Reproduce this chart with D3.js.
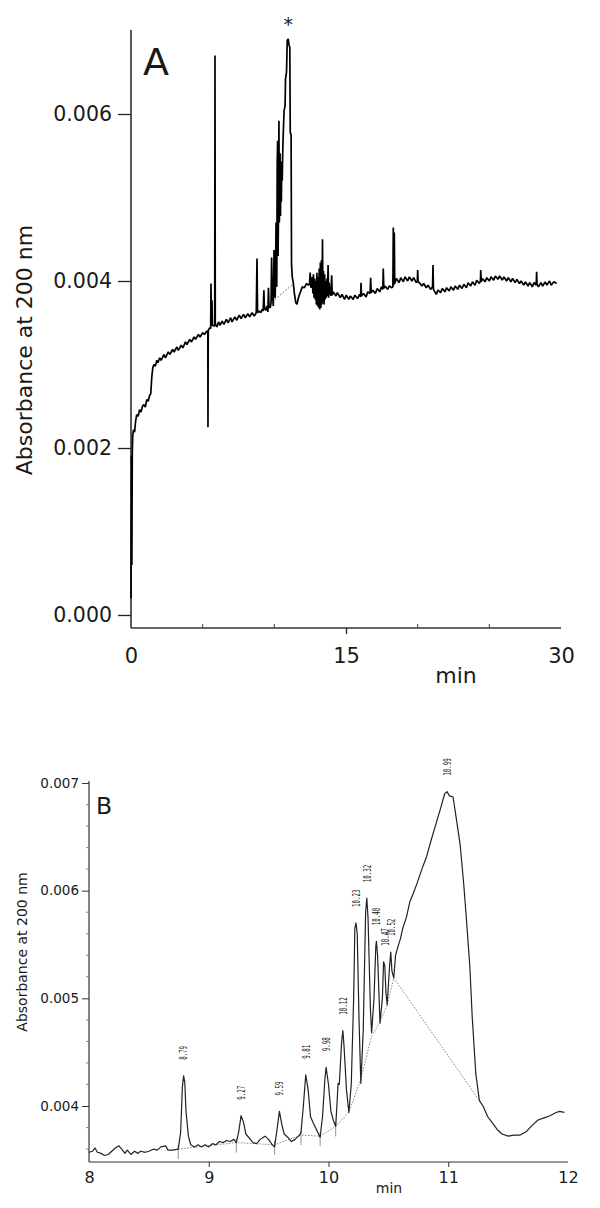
<!DOCTYPE html>
<html>
<head>
<meta charset="utf-8">
<script src="https://cdn.jsdelivr.net/npm/d3@7"></script>
<style>
  body { margin: 0; background: #fff; }
  svg { display: block; }
  text { font-family: "DejaVu Sans", Verdana, sans-serif; fill: #1a1a1a; }
</style>
</head>
<body>
<script>
// ---------- DATA ----------

// Panel A: full 30 min run, [min, absorbance]
var traceA = [
  [0.00,0.00020],[0.03,0.00190],[0.06,0.00060],[0.09,0.00195],[0.12,0.00215],[0.18,0.00222],[0.25,0.00219],
  [0.32,0.00232],[0.40,0.00240],[0.50,0.00238],[0.60,0.00246],[0.70,0.00243],[0.80,0.00250],[0.90,0.00252],
  [1.00,0.00249],[1.10,0.00258],[1.20,0.00256],[1.30,0.00263],[1.38,0.00265],[1.45,0.00285],[1.52,0.00296],
  [1.60,0.00300],[1.70,0.00298],[1.80,0.00305],[1.88,0.00302],[2.00,0.00308],[2.10,0.00305],[2.30,0.00312],
  [2.40,0.00308],[2.60,0.00315],[2.72,0.00312],[2.90,0.00318],[3.00,0.00315],[3.20,0.00321],[3.30,0.00317],
  [3.50,0.00323],[3.62,0.00320],[3.80,0.00327],[3.90,0.00324],[4.10,0.00330],[4.22,0.00327],[4.40,0.00333],
  [4.50,0.00330],[4.70,0.00336],[4.82,0.00333],[5.00,0.00338],[5.12,0.00336],[5.30,0.00340],[5.36,0.00339],
  [5.37,0.00225],[5.39,0.00341],[5.50,0.00344],[5.56,0.00343],[5.58,0.00397],[5.61,0.00346],[5.65,0.00377],
  [5.68,0.00347],[5.84,0.00346],[5.86,0.00670],[5.88,0.00349],[6.00,0.00345],[6.10,0.00351],[6.22,0.00347],
  [6.35,0.00352],[6.48,0.00348],[6.65,0.00354],[6.78,0.00350],[6.95,0.00356],[7.05,0.00351],[7.25,0.00357],
  [7.38,0.00353],[7.55,0.00359],[7.68,0.00355],[7.85,0.00360],[7.98,0.00356],[8.15,0.00361],[8.28,0.00357],
  [8.45,0.00362],[8.60,0.00358],[8.74,0.00362],[8.79,0.00427],[8.83,0.00362],[8.95,0.00364],[9.05,0.00362],
  [9.15,0.00366],[9.22,0.00364],[9.27,0.00389],[9.31,0.00367],[9.40,0.00365],[9.48,0.00370],[9.55,0.00363],
  [9.59,0.00392],[9.63,0.00369],[9.72,0.00368],[9.77,0.00374],[9.81,0.00428],[9.85,0.00385],[9.90,0.00375],
  [9.93,0.00370],[9.98,0.00437],[10.03,0.00386],[10.06,0.00380],[10.09,0.00421],[10.12,0.00470],[10.15,0.00400],
  [10.17,0.00393],[10.20,0.00540],[10.23,0.00568],[10.26,0.00430],[10.29,0.00480],[10.32,0.00592],[10.35,0.00470],
  [10.38,0.00510],[10.40,0.00553],[10.43,0.00478],[10.46,0.00534],[10.49,0.00495],[10.52,0.00543],[10.55,0.00520],
  [10.58,0.00550],[10.62,0.00575],[10.68,0.00604],[10.75,0.00610],[10.78,0.00642],[10.85,0.00650],[10.90,0.00688],
  [10.97,0.00690],[11.03,0.00682],[11.08,0.00680],[11.11,0.00578],[11.17,0.00575],[11.20,0.00420],[11.25,0.00405],
  [11.32,0.00398],[11.40,0.00385],[11.50,0.00374],[11.58,0.00372],[11.68,0.00380],[11.80,0.00386],[11.95,0.00393],
  [12.10,0.00392],[12.25,0.00397],[12.37,0.00395],[12.45,0.00396],[12.50,0.00410],[12.55,0.00392],[12.60,0.00395],
  [12.65,0.00405],[12.69,0.00385],[12.73,0.00408],[12.77,0.00380],[12.81,0.00403],[12.85,0.00378],[12.89,0.00400],
  [12.93,0.00372],[12.97,0.00410],[13.01,0.00370],[13.05,0.00405],[13.09,0.00368],[13.13,0.00415],[13.17,0.00366],
  [13.21,0.00422],[13.25,0.00368],[13.29,0.00425],[13.33,0.00372],[13.36,0.00450],[13.39,0.00375],[13.43,0.00412],
  [13.47,0.00372],[13.51,0.00408],[13.55,0.00378],[13.59,0.00400],[13.63,0.00380],[13.67,0.00403],[13.71,0.00382],
  [13.75,0.00419],[13.79,0.00380],[13.83,0.00398],[13.87,0.00384],[13.91,0.00392],[13.95,0.00382],[14.00,0.00407],
  [14.04,0.00383],[14.12,0.00387],[14.30,0.00382],[14.40,0.00386],[14.60,0.00380],[14.72,0.00384],[14.90,0.00378],
  [15.02,0.00383],[15.20,0.00378],[15.30,0.00382],[15.50,0.00378],[15.62,0.00383],[15.80,0.00379],[15.95,0.00384],
  [16.02,0.00381],[16.05,0.00398],[16.08,0.00382],[16.22,0.00385],[16.40,0.00381],[16.52,0.00387],[16.68,0.00385],
  [16.72,0.00404],[16.76,0.00386],[16.88,0.00389],[17.05,0.00385],[17.18,0.00391],[17.35,0.00387],[17.48,0.00393],
  [17.57,0.00390],[17.60,0.00415],[17.64,0.00391],[17.72,0.00394],[17.90,0.00390],[18.02,0.00394],[18.20,0.00392],
  [18.27,0.00393],[18.30,0.00464],[18.33,0.00395],[18.37,0.00458],[18.40,0.00397],[18.52,0.00403],[18.70,0.00398],
  [18.82,0.00404],[19.00,0.00399],[19.12,0.00405],[19.30,0.00400],[19.42,0.00405],[19.60,0.00400],[19.72,0.00404],
  [19.90,0.00398],[19.98,0.00400],[20.00,0.00413],[20.03,0.00399],[20.12,0.00398],[20.30,0.00394],[20.42,0.00397],
  [20.60,0.00392],[20.72,0.00395],[20.90,0.00390],[21.04,0.00393],[21.07,0.00419],[21.10,0.00390],[21.20,0.00387],
  [21.30,0.00384],[21.42,0.00389],[21.60,0.00386],[21.72,0.00391],[21.90,0.00387],[22.02,0.00392],[22.20,0.00388],
  [22.32,0.00393],[22.50,0.00389],[22.62,0.00394],[22.80,0.00390],[22.92,0.00395],[23.10,0.00391],[23.22,0.00396],
  [23.40,0.00392],[23.52,0.00398],[23.70,0.00394],[23.82,0.00399],[24.00,0.00395],[24.12,0.00401],[24.30,0.00397],
  [24.38,0.00400],[24.40,0.00413],[24.43,0.00399],[24.52,0.00403],[24.70,0.00399],[24.82,0.00404],[25.00,0.00400],
  [25.12,0.00405],[25.30,0.00401],[25.42,0.00406],[25.60,0.00402],[25.72,0.00406],[25.90,0.00401],[26.02,0.00405],
  [26.20,0.00400],[26.32,0.00404],[26.50,0.00399],[26.62,0.00403],[26.80,0.00398],[26.92,0.00402],[27.10,0.00397],
  [27.22,0.00400],[27.40,0.00395],[27.52,0.00399],[27.70,0.00394],[27.82,0.00398],[28.00,0.00393],[28.12,0.00398],
  [28.27,0.00395],[28.30,0.00411],[28.33,0.00396],[28.42,0.00393],[28.60,0.00398],[28.72,0.00394],[28.90,0.00399],
  [29.02,0.00395],[29.20,0.00400],[29.32,0.00395],[29.50,0.00399],[29.70,0.00397]
];
// integration baseline under the starred peak
var baselineA = [[9.85,0.00375],[11.22,0.00395]];
var yTicksA = [0.000, 0.002, 0.004, 0.006];
var xTicksA = [0, 15, 30];
var xMinorA = [5, 10, 20, 25];
var starPeakA = [10.97, 0.00690];

// Panel B: zoom 8-12 min, [min, absorbance]
var traceB = [
  [8.00,0.00357],[8.03,0.00358],[8.05,0.00361],[8.07,0.00357],[8.10,0.00356],[8.13,0.00354],[8.16,0.00355],
  [8.19,0.00358],[8.22,0.00361],[8.25,0.00363],[8.28,0.00359],[8.30,0.00356],[8.32,0.00359],[8.35,0.00355],
  [8.38,0.00358],[8.41,0.00356],[8.43,0.00358],[8.47,0.00357],[8.50,0.00358],[8.54,0.00360],[8.57,0.00359],
  [8.60,0.00362],[8.64,0.00363],[8.66,0.00359],[8.70,0.00359],[8.745,0.00360],[8.765,0.00375],[8.78,0.00418],
  [8.79,0.00428],[8.80,0.00422],[8.81,0.00395],[8.83,0.00372],[8.85,0.00364],[8.88,0.00362],[8.91,0.00364],
  [8.94,0.00362],[8.97,0.00364],[9.00,0.00362],[9.03,0.00365],[9.06,0.00364],[9.09,0.00367],[9.12,0.00366],
  [9.15,0.00368],[9.18,0.00367],[9.21,0.00369],[9.23,0.00366],[9.25,0.00376],[9.27,0.00391],[9.29,0.00385],
  [9.31,0.00374],[9.34,0.00370],[9.37,0.00366],[9.40,0.00365],[9.43,0.00369],[9.47,0.00372],[9.50,0.00369],
  [9.53,0.00364],[9.55,0.00362],[9.57,0.00378],[9.59,0.00395],[9.61,0.00383],[9.63,0.00374],[9.66,0.00371],
  [9.69,0.00367],[9.72,0.00369],[9.75,0.00372],[9.77,0.00375],[9.79,0.00400],[9.81,0.00429],[9.83,0.00415],
  [9.85,0.00390],[9.87,0.00385],[9.90,0.00378],[9.93,0.00371],[9.95,0.00390],[9.97,0.00425],[9.98,0.00436],
  [10.00,0.00420],[10.02,0.00395],[10.04,0.00387],[10.06,0.00381],[10.07,0.00400],[10.08,0.00421],[10.09,0.00420],
  [10.11,0.00460],[10.12,0.00470],[10.13,0.00455],[10.15,0.00415],[10.17,0.00394],[10.19,0.00420],[10.21,0.00500],
  [10.22,0.00565],[10.23,0.00570],[10.24,0.00560],[10.255,0.00480],[10.27,0.00421],[10.29,0.00470],[10.31,0.00580],
  [10.32,0.00593],[10.33,0.00575],[10.35,0.00490],[10.36,0.00468],[10.38,0.00500],[10.395,0.00548],[10.40,0.00553],
  [10.41,0.00540],[10.43,0.00477],[10.45,0.00500],[10.46,0.00534],[10.47,0.00530],[10.48,0.00505],[10.49,0.00494],
  [10.51,0.00530],[10.52,0.00543],[10.53,0.00525],[10.545,0.00519],[10.56,0.00540],[10.58,0.00548],[10.60,0.00555],
  [10.62,0.00565],[10.65,0.00575],[10.68,0.00590],[10.71,0.00598],[10.74,0.00607],[10.78,0.00620],[10.82,0.00632],
  [10.86,0.00648],[10.90,0.00663],[10.94,0.00678],[10.97,0.00690],[10.99,0.00692],[11.01,0.00688],[11.04,0.00687],
  [11.07,0.00665],[11.10,0.00642],[11.13,0.00605],[11.15,0.00576],[11.18,0.00530],[11.20,0.00483],[11.23,0.00430],
  [11.26,0.00405],[11.29,0.00400],[11.33,0.00390],[11.37,0.00384],[11.41,0.00378],[11.45,0.00374],[11.50,0.00372],
  [11.55,0.00373],[11.60,0.00373],[11.65,0.00376],[11.70,0.00382],[11.75,0.00387],[11.80,0.00389],[11.85,0.00391],
  [11.90,0.00394],[11.93,0.00395],[11.97,0.00394]
];
// dotted integration baseline
var baselineB = [
  [8.745,0.00360],[9.23,0.00366],[9.55,0.00364],[9.77,0.00373],[9.93,0.00372],[10.06,0.00381],[10.17,0.00394],
  [10.27,0.00425],[10.36,0.00465],[10.43,0.00478],[10.49,0.00494],[10.545,0.00519],[11.26,0.00405]
];
// peak start markers
var peakStartsB = [[8.745,0.00360],[9.23,0.00366],[9.55,0.00364],[9.77,0.00373],[9.93,0.00372],[10.06,0.00381]];
// labelled retention times and apex heights
var peakTimesB = [8.79, 9.27, 9.59, 9.81, 9.98, 10.12, 10.23, 10.32, 10.40, 10.47, 10.52, 10.99];
var peakHeightsB = [0.00428, 0.00391, 0.00395, 0.00429, 0.00436, 0.00470, 0.00570, 0.00593, 0.00553, 0.00534, 0.00543, 0.00692];
var yTicksB = [0.004, 0.005, 0.006, 0.007];
var xTicksB = [8, 9, 10, 11, 12];

// ---------- SVG ----------
var svg = d3.select("body").append("svg")
    .attr("width", 600)
    .attr("height", 1208);

/* ---------- PANEL A ---------- */
var xA = d3.scaleLinear().domain([0, 30]).range([131, 561]);
var yA = d3.scaleLinear().domain([0, 0.006]).range([615, 114]);
var gA = svg.append("g");

// axis lines
gA.append("line").attr("x1", 131).attr("x2", 131).attr("y1", 30).attr("y2", 628)
    .attr("stroke", "#222").attr("stroke-width", 1.5);
gA.append("line").attr("x1", 131).attr("x2", 561).attr("y1", 628).attr("y2", 628)
    .attr("stroke", "#333").attr("stroke-width", 1.3);

var yAxisA = gA.append("g").attr("transform", "translate(131,0)")
    .call(d3.axisLeft(yA).tickValues(yTicksA).tickSize(13).tickPadding(6).tickFormat(d3.format(".3f")));
yAxisA.select(".domain").remove();
yAxisA.selectAll("line").attr("stroke", "#222").attr("stroke-width", 1.3);
yAxisA.selectAll("text").style("font-size", "20.5px").attr("fill", "#1a1a1a");

var xAxisA = gA.append("g").attr("transform", "translate(0,628)")
    .call(d3.axisBottom(xA).tickValues(xTicksA).tickSize(6).tickPadding(14).tickFormat(d3.format("d")));
xAxisA.select(".domain").remove();
xAxisA.selectAll(".tick line").attr("stroke", "#222").attr("stroke-width", 1.3)
    .filter(function(d) { return d == 0 || d == 30; }).remove();
xAxisA.selectAll("text").style("font-size", "21px").attr("fill", "#1a1a1a");

// minor ticks on the time axis
gA.selectAll(".minorA").data(xMinorA).enter().append("line")
    .attr("x1", function(d) { return xA(d); }).attr("x2", function(d) { return xA(d); })
    .attr("y1", 628).attr("y2", 624)
    .attr("stroke", "#444").attr("stroke-width", 1);

// trace
var lineA = d3.line().x(function(d) { return xA(d[0]); }).y(function(d) { return yA(d[1]); });
gA.append("path").datum(traceA)
    .attr("d", lineA)
    .attr("fill", "none")
    .attr("stroke", "#000")
    .attr("stroke-width", 1.7)
    .attr("stroke-linejoin", "bevel");
gA.append("path").datum(baselineA)
    .attr("d", lineA)
    .attr("fill", "none")
    .attr("stroke", "#555")
    .attr("stroke-width", 1)
    .attr("stroke-dasharray", "1.5,2");

// texts
gA.append("text").attr("x", 143).attr("y", 75).style("font-size", "38px").text("A");
gA.append("text").attr("x", xA(starPeakA[0])).attr("y", yA(starPeakA[1]) - 8)
    .attr("text-anchor", "middle").style("font-size", "19px").text("*");
gA.append("text").attr("transform", "translate(32,350) rotate(-90)")
    .attr("text-anchor", "middle").style("font-size", "22px").text("Absorbance at 200 nm");
gA.append("text").attr("x", 456).attr("y", 683)
    .attr("text-anchor", "middle").style("font-size", "22px").text("min");

/* ---------- PANEL B ---------- */
var xB = d3.scaleLinear().domain([8, 12]).range([89, 568]);
var yB = d3.scaleLinear().domain([0.004, 0.007]).range([1106, 783]);
var gB = svg.append("g");

gB.append("line").attr("x1", 89).attr("x2", 89).attr("y1", 781).attr("y2", 1162)
    .attr("stroke", "#333").attr("stroke-width", 1.2);
gB.append("line").attr("x1", 89).attr("x2", 568).attr("y1", 1162).attr("y2", 1162)
    .attr("stroke", "#333").attr("stroke-width", 1.2);

// minor ticks every 0.0002
var minorB = d3.range(36, 71, 2).map(function(d) { return d / 10000; })
    .filter(function(d) { return Math.round(d * 10000) % 10 != 0; });
gB.selectAll(".minorB").data(minorB).enter().append("line")
    .attr("x1", 86).attr("x2", 89)
    .attr("y1", function(d) { return yB(d); }).attr("y2", function(d) { return yB(d); })
    .attr("stroke", "#666").attr("stroke-width", 0.8);

var yAxisB = gB.append("g").attr("transform", "translate(89,0)")
    .call(d3.axisLeft(yB).tickValues(yTicksB).tickSize(7).tickPadding(3).tickFormat(d3.format(".3f")));
yAxisB.select(".domain").remove();
yAxisB.selectAll("line").attr("stroke", "#333");
yAxisB.selectAll("text").style("font-size", "13.5px").attr("fill", "#1a1a1a");

var xAxisB = gB.append("g").attr("transform", "translate(0,1162)")
    .call(d3.axisBottom(xB).tickValues(xTicksB).tickSize(5).tickPadding(5).tickFormat(d3.format("d")));
xAxisB.select(".domain").remove();
xAxisB.selectAll(".tick line").attr("stroke", "#333")
    .filter(function(d) { return d == 8 || d == 12; }).remove();
xAxisB.selectAll("text").style("font-size", "16px").attr("fill", "#1a1a1a");

var lineB = d3.line().x(function(d) { return xB(d[0]); }).y(function(d) { return yB(d[1]); });
gB.append("path").datum(baselineB)
    .attr("d", lineB)
    .attr("fill", "none")
    .attr("stroke", "#777")
    .attr("stroke-width", 0.9)
    .attr("stroke-dasharray", "1.5,1.5");
gB.selectAll(".drop").data(peakStartsB).enter().append("line")
    .attr("x1", function(d) { return xB(d[0]); }).attr("x2", function(d) { return xB(d[0]); })
    .attr("y1", function(d) { return yB(d[1]) - 4; }).attr("y2", function(d) { return yB(d[1]) + 10; })
    .attr("stroke", "#777").attr("stroke-width", 0.8);
gB.append("path").datum(traceB)
    .attr("d", lineB)
    .attr("fill", "none")
    .attr("stroke", "#222")
    .attr("stroke-width", 1.2)
    .attr("stroke-linejoin", "round");

// retention-time labels
gB.selectAll(".rt").data(peakTimesB).enter().append("text")
    .attr("transform", function(d, i) {
      return "translate(" + (xB(d) + 3.8) + "," + (yB(peakHeightsB[i]) - 16) + ") rotate(-90) scale(0.55,1)";
    })
    .style("font-family", "'DejaVu Sans Mono', monospace")
    .style("font-size", "10.5px")
    .attr("fill", "#333")
    .text(function(d) { return d3.format(".2f")(d); });

gB.append("text").attr("x", 96).attr("y", 814).style("font-size", "23.5px").text("B");
gB.append("text").attr("transform", "translate(27,952) rotate(-90)")
    .attr("text-anchor", "middle").style("font-size", "14px").text("Absorbance at 200 nm");
gB.append("text").attr("x", 389).attr("y", 1193)
    .attr("text-anchor", "middle").style("font-size", "14px").text("min");
</script>
</body>
</html>
